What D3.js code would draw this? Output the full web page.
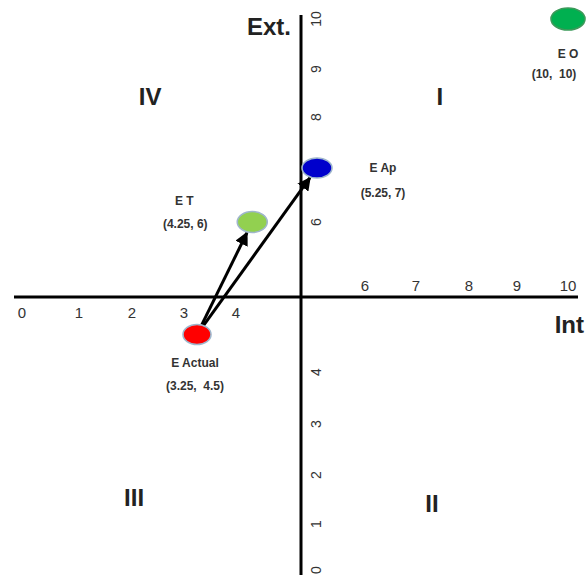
<!DOCTYPE html>
<html>
<head>
<meta charset="utf-8">
<script src="https://cdn.jsdelivr.net/npm/d3@7"></script>
<style>
  html, body { margin: 0; padding: 0; background: #fff; }
  svg { display: block; font-family: "Liberation Sans", Arial, sans-serif; }
</style>
</head>
<body>
<div id="chart"></div>
<script>
// ---- data ----
const xTickValues = [0, 1, 2, 3, 4, 6, 7, 8, 9, 10];
const yTickValues = [0, 1, 2, 3, 4, 6, 7, 8, 9, 10];
const pointNames = ["E Actual", "E T", "E Ap", "E O"];
const pointX = [3.25, 4.25, 5.25, 10];
const pointY = [4.5, 6, 7, 10];
const pointCoordText = ["(3.25,  4.5)", "(4.25, 6)", "(5.25, 7)", "(10,  10)"];
const arrowFrom = ["E Actual", "E Actual"];
const arrowTo = ["E T", "E Ap"];
const quadrantNames = ["I", "II", "III", "IV"];
const quadrantX = [7.45, 7.3, 2.04, 2.35];
const quadrantY = [8.25, 1.24, 1.37, 8.25];
const axisOrigin = 5;
const xAxisTitle = "Int";
const yAxisTitle = "Ext.";

// ---- layout ----
const W = 586, H = 575;
const svg = d3.select("#chart").append("svg").attr("width", W).attr("height", H);

// piecewise scales following the hand-placed tick positions of the drawing
const x = d3.scaleLinear()
  .domain([0, 1, 2, 3, 4, 5, 6, 7, 8, 9, 10])
  .range([22, 79, 132, 184, 236, 301, 365, 416, 469, 517, 568]);
const y = d3.scaleLinear()
  .domain([0, 1, 2, 3, 4, 5, 6, 7, 8, 9, 10])
  .range([570, 524, 475, 424, 372, 297, 222, 168, 117, 69, 19]);

const x0 = x(axisOrigin), y0 = y(axisOrigin);

// axes lines
svg.append("line")
  .attr("x1", x(0) - 8).attr("x2", x(10) + 10)
  .attr("y1", y0).attr("y2", y0)
  .attr("stroke", "#000").attr("stroke-width", 3);
svg.append("line")
  .attr("x1", x0).attr("x2", x0)
  .attr("y1", y(10) - 4).attr("y2", H)
  .attr("stroke", "#000").attr("stroke-width", 3);

// x tick labels (below axis on the left side, above on the right side)
svg.append("g").selectAll("text").data(xTickValues).join("text")
  .attr("x", d => x(d))
  .attr("y", d => d < axisOrigin ? y0 + 21 : y0 - 6)
  .attr("text-anchor", "middle")
  .attr("font-size", 15)
  .attr("fill", "#333")
  .text(d => d);

// y tick labels (rotated)
svg.append("g").selectAll("text").data(yTickValues).join("text")
  .attr("transform", d => `translate(${x0 + 20},${y(d)}) rotate(-90)`)
  .attr("text-anchor", "middle")
  .attr("font-size", 14)
  .attr("fill", "#333")
  .text(d => d);

// axis titles
svg.append("text")
  .attr("x", x(10) + 16).attr("y", y0 + 36)
  .attr("text-anchor", "end")
  .attr("font-size", 24).attr("font-weight", "bold").attr("fill", "#222")
  .text(xAxisTitle);
svg.append("text")
  .attr("x", x0 - 10).attr("y", y(10) + 16)
  .attr("text-anchor", "end")
  .attr("font-size", 24).attr("font-weight", "bold").attr("fill", "#222")
  .text(yAxisTitle);

// quadrant labels
svg.append("g").selectAll("text").data(quadrantNames).join("text")
  .attr("x", (d, i) => x(quadrantX[i]))
  .attr("y", (d, i) => y(quadrantY[i]))
  .attr("text-anchor", "middle")
  .attr("font-size", 24).attr("font-weight", "bold").attr("fill", "#222")
  .text(d => d);

// arrow marker
svg.append("defs").append("marker")
  .attr("id", "arrow")
  .attr("viewBox", "0 0 10 10")
  .attr("refX", 9).attr("refY", 5)
  .attr("markerWidth", 4.5).attr("markerHeight", 4.5)
  .attr("markerUnits", "strokeWidth")
  .attr("orient", "auto")
  .append("path").attr("d", "M0,0 L10,5 L0,10 Z").attr("fill", "#000");

const pts = pointNames.map((n, i) => ({ name: n, x: pointX[i], y: pointY[i], coord: pointCoordText[i] }));
const byName = new Map(pts.map(p => [p.name, p]));
const arrows = arrowFrom.map((f, i) => ({ from: byName.get(f), to: byName.get(arrowTo[i]) }));

svg.append("g").selectAll("line").data(arrows).join("line")
  .each(function (d) {
    const sx = x(d.from.x), sy = y(d.from.y), tx = x(d.to.x), ty = y(d.to.y);
    const dx = tx - sx, dy = ty - sy, len = Math.hypot(dx, dy);
    const ux = dx / len, uy = dy / len;
    d3.select(this)
      .attr("x1", sx + ux * 11).attr("y1", sy + uy * 11)
      .attr("x2", tx - ux * 12).attr("y2", ty - uy * 12);
  })
  .attr("stroke", "#000").attr("stroke-width", 3)
  .attr("marker-end", "url(#arrow)");

// points
const pointColors = ["#ff0000", "#92d050", "#0000cc", "#00b050"];
const pointRx = [14, 15, 15, 17];
const pointRy = [10, 10.5, 10, 11];
svg.append("g").selectAll("ellipse").data(pts).join("ellipse")
  .attr("cx", d => x(d.x)).attr("cy", d => y(d.y))
  .attr("rx", (d, i) => pointRx[i]).attr("ry", (d, i) => pointRy[i])
  .attr("fill", (d, i) => pointColors[i])
  .attr("stroke", (d, i) => i === 3 ? "#3c9a5a" : "#9fb6cc")
  .attr("stroke-width", 1.6);

// point labels (offsets relative to each point)
const nameDx = [-2, -68, 66, 0], nameDy = [32, -17, 4, 39];
const coordDx = [-2, -67, 66, -14], coordDy = [55, 6, 29, 59];
const lab = svg.append("g").attr("font-size", 12).attr("font-weight", "bold").attr("fill", "#333")
  .attr("text-anchor", "middle");
lab.selectAll("text.n").data(pts).join("text").attr("class", "n")
  .attr("x", (d, i) => x(d.x) + nameDx[i]).attr("y", (d, i) => y(d.y) + nameDy[i])
  .style("white-space", "pre")
  .text(d => d.name);
lab.selectAll("text.c").data(pts).join("text").attr("class", "c")
  .attr("x", (d, i) => x(d.x) + coordDx[i]).attr("y", (d, i) => y(d.y) + coordDy[i])
  .style("white-space", "pre")
  .text(d => d.coord);
</script>
</body>
</html>
